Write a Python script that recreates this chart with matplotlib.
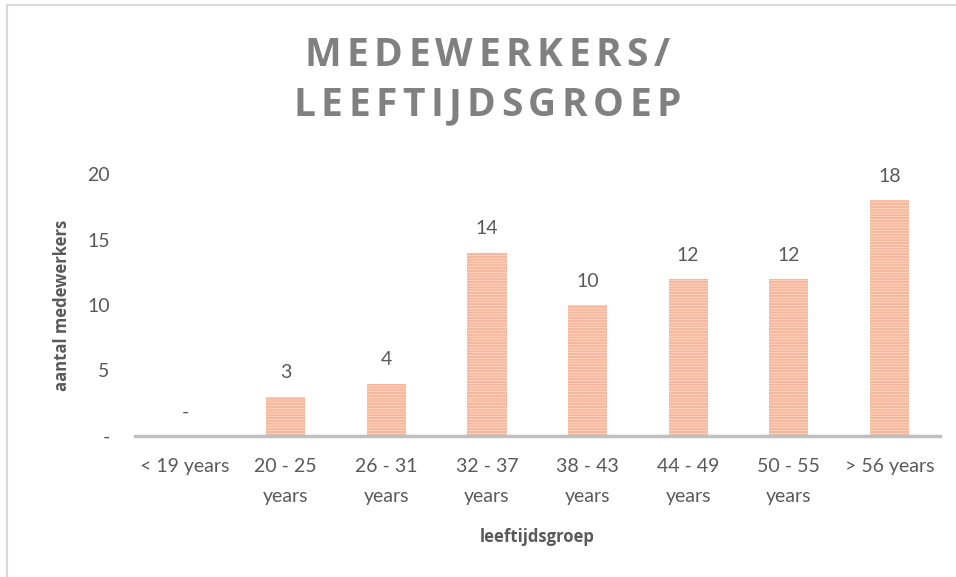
import matplotlib
matplotlib.use('Agg')
import matplotlib.pyplot as plt
from matplotlib.lines import Line2D

plt.rcParams['font.family'] = ['Lato', 'DejaVu Sans']
plt.rcParams['hatch.linewidth'] = 1.6
bold_font = ['Open Sans', 'DejaVu Sans']

# data
categories = ['< 19 years', '20 - 25\nyears', '26 - 31\nyears', '32 - 37\nyears',
              '38 - 43\nyears', '44 - 49\nyears', '50 - 55\nyears', '> 56 years']
counts = [0, 3, 4, 14, 10, 12, 12, 18]
y_ticks = [0, 5, 10, 15, 20]
y_tick_labels = ['-', '5', '10', '15', '20']
title_lines = ['MEDEWERKERS/', 'LEEFTIJDSGROEP']

text_col = '#595959'

fig = plt.figure(figsize=(9.56, 5.77), dpi=100)
ax = fig.add_axes([0.141, 0.2444, 0.842, 0.454])

x = list(range(len(categories)))
ax.bar(x, counts, width=0.39, color='#fde8dc', edgecolor='#f6b79c',
       linewidth=0, hatch='------')

for xi, v in zip(x, counts):
    ax.annotate('-' if v == 0 else str(v), (xi, v), xytext=(0, 11),
                textcoords='offset points', ha='center', va='bottom',
                fontsize=14, color=text_col)

ax.set_xlim(-0.5, len(categories) - 0.5)
ax.set_ylim(0, 20)
ax.set_yticks(y_ticks)
ax.set_yticklabels(y_tick_labels)
ax.set_xticks(x)
ax.set_xticklabels(categories, linespacing=1.9)
ax.tick_params(axis='both', length=0, labelsize=14, labelcolor=text_col)
ax.tick_params(axis='y', pad=18)
ax.tick_params(axis='x', pad=16)

for s in ['top', 'right', 'left']:
    ax.spines[s].set_visible(False)
ax.spines['bottom'].set_color('#bfbfbf')
ax.spines['bottom'].set_linewidth(2.5)

ax.set_ylabel('aantal medewerkers', fontsize=12, fontweight='bold',
              family=bold_font, color=text_col, labelpad=12)
ax.set_xlabel('leeftijdsgroep', fontsize=12, fontweight='bold',
              family=bold_font, color=text_col, labelpad=17)

# title with letter spacing
fig.canvas.draw()
renderer = fig.canvas.get_renderer()
W, H = fig.bbox.width, fig.bbox.height
tracking = 5.5
for line, ypix in zip(title_lines, [56, 106]):
    widths = []
    for ch in line:
        t = fig.text(0, 0, ch, fontsize=28, fontweight='bold', family=bold_font)
        widths.append(t.get_window_extent(renderer).width)
        t.remove()
    total = sum(widths) + tracking * (len(line) - 1)
    xp = 487 - total / 2
    for ch, w in zip(line, widths):
        fig.text(xp / W, 1 - ypix / H, ch, fontsize=28, fontweight='bold',
                 family=bold_font, color='#808080', va='center', ha='left')
        xp += w + tracking

# light border at top and left
fig.add_artist(Line2D([7 / W, 1], [1 - 5 / H, 1 - 5 / H], color='#d9d9d9', lw=1.5))
fig.add_artist(Line2D([7 / W, 7 / W], [0, 1 - 5 / H], color='#d9d9d9', lw=1.5))

fig.savefig('out.png', dpi=100)
